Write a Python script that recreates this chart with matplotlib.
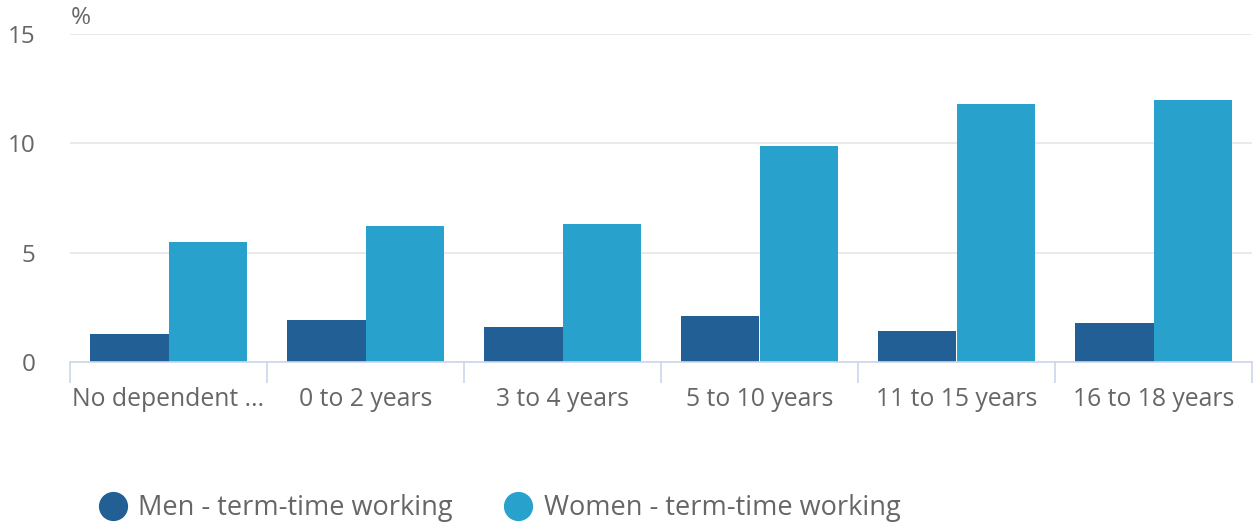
import matplotlib.pyplot as plt
import numpy as np
from matplotlib.lines import Line2D

plt.rcParams['font.family'] = ['Open Sans', 'DejaVu Sans']

categories = ['No dependent ...', '0 to 2 years', '3 to 4 years', '5 to 10 years',
              '11 to 15 years', '16 to 18 years']
men = [1.3, 1.9, 1.6, 2.1, 1.4, 1.8]
women = [5.5, 6.2, 6.3, 9.9, 11.8, 12.0]
series_names = ['Men - term-time working', 'Women - term-time working']
colors = ['#215f94', '#28a1cc']

fig = plt.figure(figsize=(12.55, 5.23), dpi=100)
ax = fig.add_axes([70 / 1255, 1 - 362 / 523, 1182 / 1255, 328 / 523])

x = np.arange(len(categories))
w = 0.4
ax.bar(x - w / 2, men, width=w, color=colors[0], zorder=3)
ax.bar(x + w / 2, women, width=w, color=colors[1], zorder=3)

ax.set_xlim(-0.5, len(categories) - 0.5)
ax.set_ylim(0, 15)
ax.set_yticks([0, 5, 10, 15])
ax.yaxis.grid(True, color='#e6e6e6', linewidth=1.2, zorder=0)
ax.tick_params(axis='y', length=0, labelsize=17.5, labelcolor='#666666', pad=25)

# category boundary ticks and centred labels
ax.set_xticks(np.arange(len(categories) + 1) - 0.5)
ax.set_xticklabels([])
ax.set_xticks(x, minor=True)
ax.set_xticklabels(categories, minor=True)
ax.tick_params(axis='x', which='major', length=15, width=1.2, color='#ccd6eb')
ax.tick_params(axis='x', which='minor', length=0, labelsize=17.8, labelcolor='#666666', pad=18)

for s in ['top', 'right', 'left']:
    ax.spines[s].set_visible(False)
ax.spines['bottom'].set_color('#ccd6eb')
ax.spines['bottom'].set_linewidth(1.2)
ax.spines['bottom'].set_zorder(4)

fig.text(71 / 1255, 1 - 18 / 523, '%', fontsize=17.5, color='#666666', va='center', ha='left')

handles = [Line2D([], [], marker='o', linestyle='', markersize=20, color=c) for c in colors]
fig.legend(handles, series_names, loc='center left', bbox_to_anchor=(72 / 1255, 1 - 508 / 523),
           frameon=False, ncol=2, fontsize=19.5, handletextpad=0.35, columnspacing=1.8,
           labelcolor='#666666', handlelength=1.2)

fig.savefig('out.png', dpi=100)
